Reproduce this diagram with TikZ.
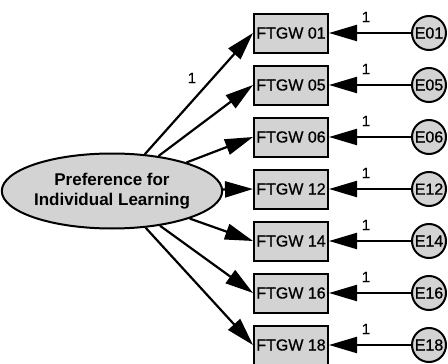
\documentclass[tikz,border=0pt]{standalone}
\usepackage{fontspec}
\setmainfont{Liberation Sans}
\newfontfamily\heavysans[FakeBold=0.8]{Liberation Sans}
\usetikzlibrary{shapes.geometric,arrows.meta}
\definecolor{boxgray}{RGB}{211,211,211}
\begin{document}
\begin{tikzpicture}[x=1pt,y=-1pt,
  obs/.style={draw,line width=2pt,fill=boxgray,minimum width=74pt,minimum height=39pt,inner sep=0pt,font=\heavysans\fontsize{16}{18}\selectfont},
  err/.style={draw,circle,line width=2pt,fill=boxgray,minimum size=34pt,inner sep=0pt,font=\heavysans\fontsize{16}{18}\selectfont},
  lat/.style={draw,ellipse,line width=2pt,fill=boxgray,minimum width=208pt,minimum height=75pt,inner sep=0pt,align=center,font=\fontsize{17}{20}\selectfont\bfseries},
  conn/.style={line width=2.2pt,-{Triangle[length=28pt,width=16pt]}},
  one/.style={font=\heavysans\fontsize{15}{17}\selectfont,inner sep=0pt}]
\useasboundingbox (0,0) rectangle (448,364);
\node[lat] (L) at (112,191) {Preference for\\Individual Learning};
\foreach \n/\y in {01/33,05/85,06/137,12/189,14/241,16/293,18/345}{
  \node[obs] (b\n) at (291,\y) {FTGW \n};
  \node[err] (e\n) at (429,\y) {E\n};
  \draw[conn] (e\n) -- (b\n);
  \node[one] at (366,\y-16) {1};
  \draw[conn] (L) -- (b\n.west);
}
\node[one] at (192,78) {1};
\end{tikzpicture}
\end{document}
